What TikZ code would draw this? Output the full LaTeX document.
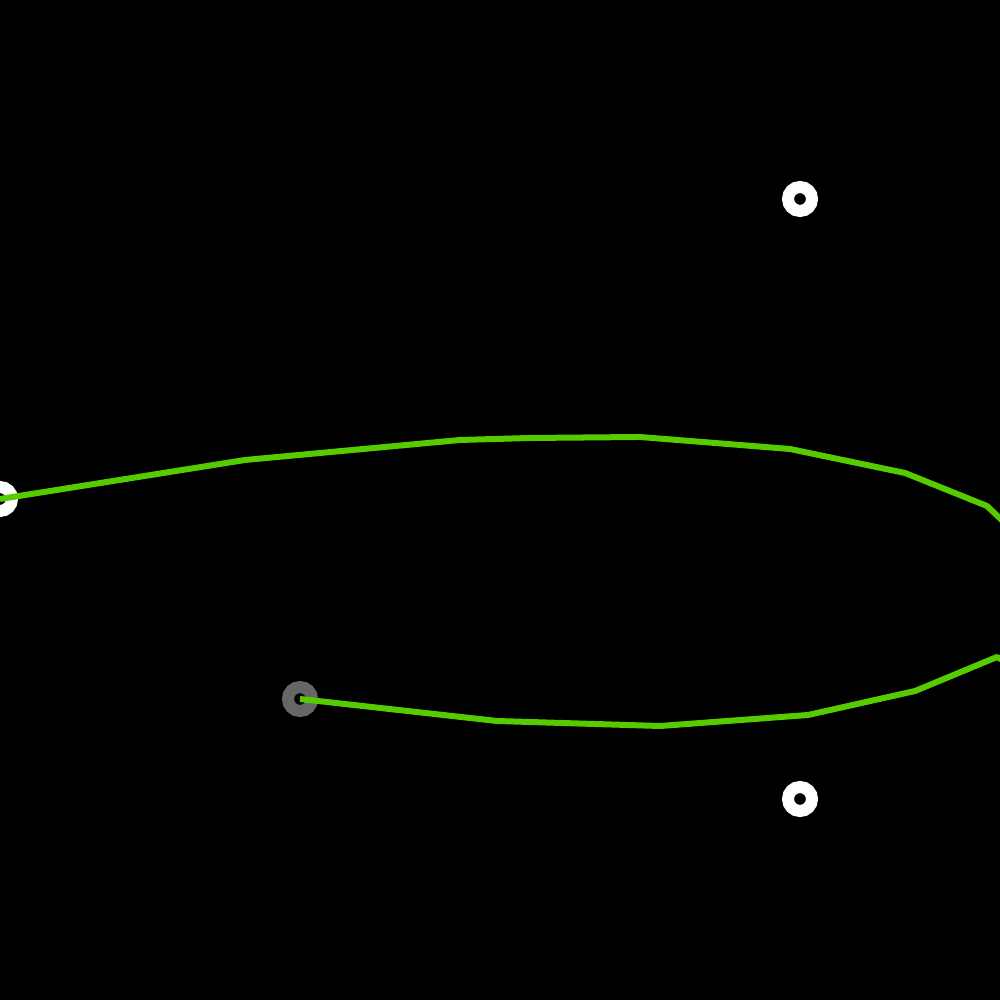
\documentclass[tikz,border=0pt]{standalone}
\definecolor{pathgreen}{RGB}{86,204,0}
\definecolor{ringgray}{RGB}{102,102,102}
\tikzset{
	ring/.style = {circle, draw = #1, line width = 1.2mm, minimum size = 2.4mm, inner sep = 0pt},
	track/.style = {draw = pathgreen, line width = 0.6mm, line join = round}
}
\begin{document}
\begin{tikzpicture}
	\fill [black] (0,0) rectangle (10,10);
	\useasboundingbox (0,0) rectangle (10,10);
	%\draw [gray] (0,0) grid (10,10);
	\node [ring = white] (upper) at (8,8.01) {};
	\node [ring = white] (lower) at (8,2.01) {};
	\node [ring = white] (start) at (0,5.01) {};
	\node [ring = ringgray] (goal) at (3,3.01) {};
	\draw [track] (start.center) -- (2.45,5.40) -- (4.60,5.60) -- (5.30,5.62) -- (6.40,5.63)
		-- (7.90,5.51) -- (9.05,5.27) -- (9.87,4.94) -- (10.10,4.72)
		-- (10.10,3.36) -- (9.97,3.43) -- (9.15,3.09) -- (8.08,2.85) -- (6.60,2.74)
		-- (4.97,2.79) -- (goal.center);
\end{tikzpicture}
\end{document}
